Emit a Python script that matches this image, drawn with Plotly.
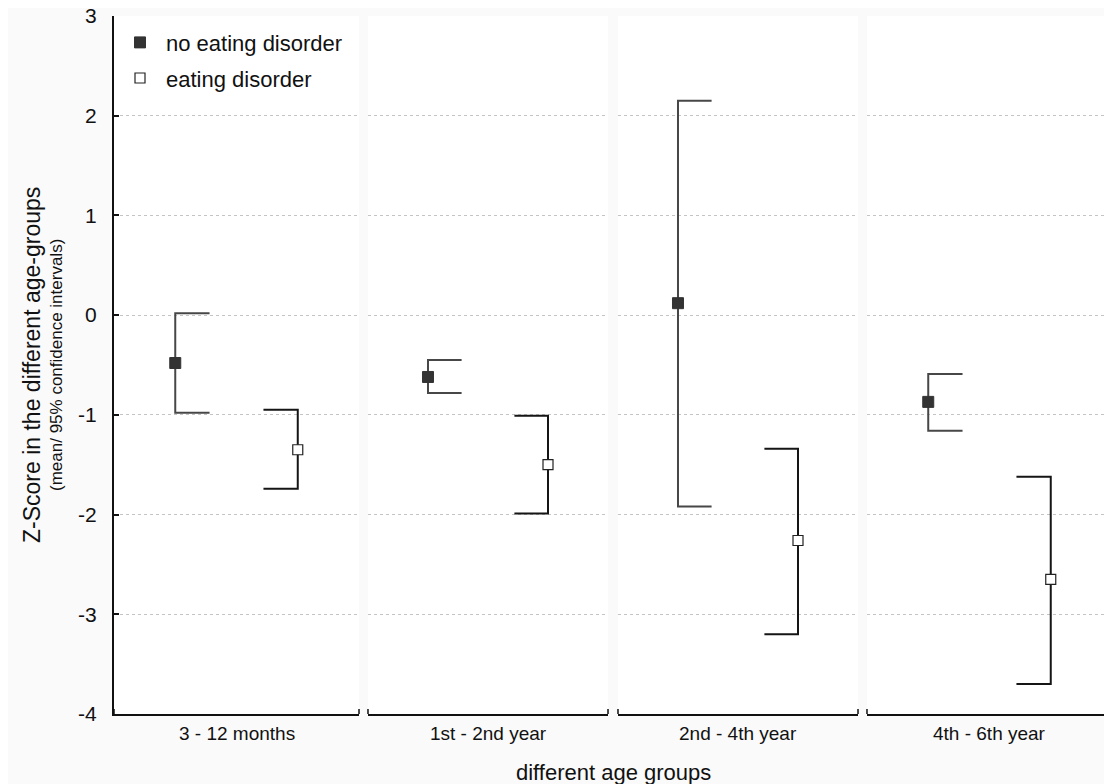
import plotly.graph_objects as go

categories = ["3 - 12 months", "1st - 2nd year", "2nd - 4th year", "4th - 6th year"]
no_ed_mean = [-0.48, -0.62, 0.12, -0.87]
no_ed_lo = [-0.98, -0.78, -1.92, -1.16]
no_ed_hi = [0.02, -0.45, 2.15, -0.59]
ed_mean = [-1.35, -1.50, -2.26, -2.65]
ed_lo = [-1.74, -1.99, -3.20, -3.70]
ed_hi = [-0.95, -1.01, -1.34, -1.62]
y_ticks = [3, 2, 1, 0, -1, -2, -3, -4]
y_ticktext = ["3", "2", "1", "0", "-1", "-2", "-3", "-4"]

FONT = "Liberation Sans, Arial, sans-serif"
POS_NO, POS_ED, CAP = 0.25, 0.75, 0.14
domains = [[0.0, 0.2455], [0.2545, 0.495], [0.505, 0.7455], [0.7545, 1.0]]

fig = go.Figure()
for i, cat in enumerate(categories):
    xa = "x" if i == 0 else f"x{i+1}"
    ya = "y" if i == 0 else f"y{i+1}"
    fig.add_trace(go.Scatter(
        x=[POS_NO + CAP, POS_NO, POS_NO, POS_NO + CAP],
        y=[no_ed_hi[i], no_ed_hi[i], no_ed_lo[i], no_ed_lo[i]],
        mode="lines", line=dict(color="#474747", width=2),
        xaxis=xa, yaxis=ya, showlegend=False, hoverinfo="skip"))
    fig.add_trace(go.Scatter(
        x=[POS_ED - CAP, POS_ED, POS_ED, POS_ED - CAP],
        y=[ed_hi[i], ed_hi[i], ed_lo[i], ed_lo[i]],
        mode="lines", line=dict(color="#151515", width=2),
        xaxis=xa, yaxis=ya, showlegend=False, hoverinfo="skip"))
    fig.add_trace(go.Scatter(
        x=[POS_NO], y=[no_ed_mean[i]], mode="markers",
        marker=dict(symbol="square", size=11, color="#333333",
                    line=dict(color="#333333", width=1)),
        name="no eating disorder", legendgroup="no", showlegend=(i == 0),
        xaxis=xa, yaxis=ya))
    fig.add_trace(go.Scatter(
        x=[POS_ED], y=[ed_mean[i]], mode="markers",
        marker=dict(symbol="square", size=10, color="white",
                    line=dict(color="#222222", width=1.2)),
        name="eating disorder", legendgroup="ed", showlegend=(i == 0),
        xaxis=xa, yaxis=ya))

layout = dict(
    width=1112, height=784,
    margin=dict(l=106, r=8, t=8, b=78, autoexpand=False),
    paper_bgcolor="#fafafa", plot_bgcolor="white",
    font=dict(family=FONT, color="#111111"),
    legend=dict(x=0.0, y=0.992, xanchor="left", yanchor="top",
                bgcolor="rgba(255,255,255,0)", font=dict(size=22, family=FONT),
                itemwidth=42, tracegroupgap=4),
    shapes=[], annotations=[],
)

for i, cat in enumerate(categories):
    xk = "xaxis" if i == 0 else f"xaxis{i+1}"
    yk = "yaxis" if i == 0 else f"yaxis{i+1}"
    ya = "y" if i == 0 else f"y{i+1}"
    xref = "x" if i == 0 else f"x{i+1}"
    layout[xk] = dict(domain=domains[i], range=[0, 1], anchor=ya,
                      showgrid=False, zeroline=False, showline=True,
                      linecolor="#111111", linewidth=2, automargin=False,
                      showticklabels=False, ticks="", fixedrange=True)
    yax = dict(domain=[0, 1], range=[-4, 3], anchor=xref, automargin=False,
               tickmode="array", tickvals=y_ticks, ticktext=y_ticktext,
               showgrid=False, zeroline=False,
               minor=dict(tickmode="array", tickvals=[2, 1, 0, -1, -2, -3],
                          showgrid=True, gridcolor="#c4c4c4", griddash="dot",
                          gridwidth=1, ticks=""))
    if i == 0:
        yax.update(showline=True, linecolor="#111111", linewidth=2,
                   ticks="inside", ticklen=5, tickwidth=1.5, tickcolor="#111111",
                   tickfont=dict(size=21, family=FONT, color="#111111"),
                   ticklabelstandoff=11, ticklabeloverflow="allow")
    else:
        yax.update(matches="y", showline=False, showticklabels=False, ticks="")
    layout[yk] = yax
    for xv in (0, 1):
        layout["shapes"].append(dict(
            type="line", xref=f"{xref} domain", yref=ya,
            x0=xv, x1=xv, ysizemode="pixel", yanchor=-4, y0=-5, y1=5,
            line=dict(color="#111111", width=1.5)))
    layout["annotations"].append(dict(
        text=cat, xref=f"{xref} domain", yref=f"{ya} domain",
        x=0.5, y=0, xanchor="center", yanchor="middle", yshift=-19,
        showarrow=False, font=dict(size=19, family=FONT, color="#111111")))

layout["annotations"] += [
    dict(text="different age groups", xref="paper", yref="paper", x=0.5, y=0,
         xanchor="center", yanchor="middle", yshift=-58, showarrow=False,
         font=dict(size=22, family=FONT, color="#111111")),
    dict(text="Z-Score in the different age-groups", xref="paper", yref="paper",
         x=0, y=0.5, xanchor="center", yanchor="middle", xshift=-82, textangle=-90,
         showarrow=False, font=dict(size=23, family=FONT, color="#111111")),
    dict(text="(mean/ 95% confidence intervals)", xref="paper", yref="paper",
         x=0, y=0.5, xanchor="center", yanchor="middle", xshift=-58, textangle=-90,
         showarrow=False, font=dict(size=17, family=FONT, color="#111111")),
]

fig.update_layout(**layout)
fig.write_html("out.html")
